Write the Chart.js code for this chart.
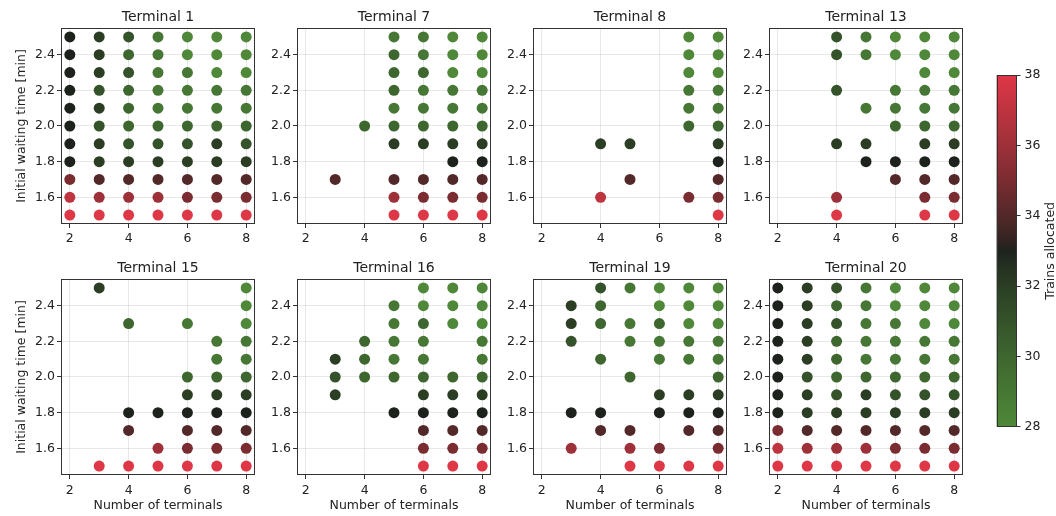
<!DOCTYPE html>
<html><head><meta charset="utf-8">
<script src="https://cdn.jsdelivr.net/npm/chart.js@4/dist/chart.umd.min.js"></script>
<style>
html,body{margin:0;padding:0;background:#fff;}
#wrap{position:relative;width:1056px;height:516px;overflow:hidden;background:#fff;}
canvas{position:absolute;}
</style></head><body><div id="wrap"></div>
<script>
// ---- data ----
const nTerminals = [2, 3, 4, 5, 6, 7, 8];
const waitTimes = [2.5, 2.4, 2.3, 2.2, 2.1, 2.0, 1.9, 1.8, 1.7, 1.6, 1.5];
const xTicks = [2, 4, 6, 8];
const yTicks = [1.6, 1.8, 2.0, 2.2, 2.4];
const cbTicks = [28, 30, 32, 34, 36, 38];
const cbMin = 28, cbMax = 38;
const panelTitles = ['Terminal 1', 'Terminal 7', 'Terminal 8', 'Terminal 13', 'Terminal 15', 'Terminal 16', 'Terminal 19', 'Terminal 20'];
const n = null;
// rows: waitTimes (2.5 -> 1.5), columns: nTerminals (2 -> 8); value = trains allocated
const terminal1 = [
  [33,32,31,29,28,28,28],
  [33,32,30,29,28,28,28],
  [33,32,31,29,29,28,28],
  [33,31,30,29,29,29,29],
  [33,32,30,29,29,29,29],
  [33,31,30,30,30,30,30],
  [33,32,31,31,31,32,31],
  [33,32,32,32,32,32,32],
  [35,34,34,34,34,34,34],
  [37,36,36,36,35,35,35],
  [38,38,38,38,38,38,38]];
const terminal7 = [
  [n,n,n,29,29,28,28],
  [n,n,n,30,29,28,28],
  [n,n,n,30,30,28,28],
  [n,n,n,30,29,29,29],
  [n,n,n,29,29,29,29],
  [n,n,30,30,30,30,30],
  [n,n,n,32,32,32,32],
  [n,n,n,n,n,33,33],
  [n,34,n,34,34,34,34],
  [n,n,n,36,35,35,35],
  [n,n,n,38,38,38,38]];
const terminal8 = [
  [n,n,n,n,n,28,28],
  [n,n,n,n,n,28,28],
  [n,n,n,n,n,28,28],
  [n,n,n,n,n,29,29],
  [n,n,n,n,n,29,29],
  [n,n,n,n,n,30,30],
  [n,n,32,32,n,n,32],
  [n,n,n,n,n,n,33],
  [n,n,n,34,n,n,34],
  [n,n,37,n,n,35,35],
  [n,n,n,n,n,n,38]];
const terminal13 = [
  [n,n,31,29,28,28,28],
  [n,n,31,29,28,28,28],
  [n,n,n,n,n,28,28],
  [n,n,31,n,29,29,29],
  [n,n,n,29,29,29,29],
  [n,n,n,n,30,30,30],
  [n,n,32,32,n,32,32],
  [n,n,n,33,33,33,33],
  [n,n,n,n,34,34,34],
  [n,n,36,n,n,35,35],
  [n,n,38,n,n,38,38]];
const terminal15 = [
  [n,32,n,n,n,n,28],
  [n,n,n,n,n,n,28],
  [n,n,30,n,29,n,28],
  [n,n,n,n,n,29,29],
  [n,n,n,n,n,29,29],
  [n,n,n,n,30,30,30],
  [n,n,n,n,32,32,32],
  [n,n,33,33,33,33,33],
  [n,n,34,n,34,34,34],
  [n,n,n,36,35,35,35],
  [n,38,38,38,38,38,38]];
const terminal16 = [
  [n,n,n,n,28,28,28],
  [n,n,n,29,28,28,28],
  [n,n,n,29,30,28,28],
  [n,n,30,29,29,n,29],
  [n,32,30,29,29,n,29],
  [n,31,30,30,30,30,30],
  [n,32,n,n,32,32,32],
  [n,n,n,33,33,33,33],
  [n,n,n,n,34,34,34],
  [n,n,n,n,35,35,35],
  [n,n,n,n,38,38,38]];
const terminal19 = [
  [n,n,31,29,28,28,28],
  [n,32,30,n,28,28,28],
  [n,32,30,29,30,28,28],
  [n,31,n,29,29,29,29],
  [n,n,30,n,29,29,29],
  [n,n,n,30,n,n,30],
  [n,n,n,n,32,32,32],
  [n,33,33,n,33,33,33],
  [n,n,34,34,n,34,34],
  [n,36,n,36,35,n,35],
  [n,n,n,38,38,38,38]];
const terminal20 = [
  [33,32,31,29,28,28,28],
  [33,32,30,29,28,28,28],
  [33,32,31,29,29,28,28],
  [33,32,30,29,29,29,29],
  [33,32,30,29,29,29,29],
  [33,31,30,30,30,30,30],
  [33,32,31,32,31,31,31],
  [33,32,32,32,32,32,32],
  [35,34,34,34,34,34,34],
  [37,36,36,36,35,35,35],
  [38,38,38,38,38,38,38]];
const panelGrids = [terminal1, terminal7, terminal8, terminal13, terminal15, terminal16, terminal19, terminal20];

// ---- styling ----
const FONT = "'DejaVu Sans', sans-serif";
const TXT = '#222';
const cGreen = [78, 136, 56], cDark = [29, 34, 29], cRed = [222, 55, 70];
function mix(a, b, t) { return a.map((v, i) => Math.round(v + (b[i] - v) * t)); }
function cmap(v) {
  const t = Math.max(0, Math.min(1, (v - cbMin) / (cbMax - cbMin)));
  let c;
  if (t < 0.5) c = mix(cDark, cGreen, Math.pow((0.5 - t) / 0.5, 0.8));
  else c = mix(cDark, cRed, Math.pow((t - 0.5) / 0.5, 0.8));
  return 'rgb(' + c.join(',') + ')';
}
const framePlugin = {
  id: 'frame',
  afterDraw(chart) {
    const { ctx, chartArea: a } = chart;
    ctx.save();
    ctx.strokeStyle = '#333';
    ctx.lineWidth = 1;
    const l = Math.round(a.left) + 0.5, t = Math.round(a.top) + 0.5;
    const r = Math.round(a.right) - 0.5, b = Math.round(a.bottom) - 0.5;
    ctx.strokeRect(l, t, r - l, b - t);
    ctx.restore();
  }
};

const wrap = document.getElementById('wrap');
const plotLefts = [61, 297, 533, 769];
const plotTops = [28, 279];
const PW = 194, PH = 196, ML = 50, MR = 50, TT = 28;

function makeCanvas(left, top, w, h) {
  const c = document.createElement('canvas');
  c.width = w; c.height = h;
  c.style.left = left + 'px'; c.style.top = top + 'px';
  c.style.width = w + 'px'; c.style.height = h + 'px';
  wrap.appendChild(c);
  return c;
}

panelGrids.forEach((grid, i) => {
  const col = i % 4, row = Math.floor(i / 4);
  const xH = row === 1 ? 40 : 30;
  const w = ML + PW + MR, h = TT + PH + xH;
  const cv = makeCanvas(plotLefts[col] - ML, plotTops[row] - TT, w, h);
  const pts = [];
  grid.forEach((r, ri) => r.forEach((v, ci) => {
    if (v !== null) pts.push({ x: nTerminals[ci], y: waitTimes[ri], v: v });
  }));
  new Chart(cv, {
    type: 'scatter',
    data: { datasets: [{
      data: pts,
      pointRadius: 5.5, pointHoverRadius: 5.5, pointBorderWidth: 0,
      backgroundColor: ctx => cmap(ctx.raw ? ctx.raw.v : 33)
    }] },
    options: {
      responsive: false, animation: false, devicePixelRatio: 1,
      events: [],
      layout: { padding: { left: 0, right: MR, top: 0, bottom: 0 } },
      plugins: {
        legend: { display: false }, tooltip: { enabled: false },
        title: { display: true, text: panelTitles[i], fullSize: false, color: TXT,
          font: { family: FONT, size: 14, weight: 'normal' }, padding: { top: 8.5, bottom: 2.7 } }
      },
      scales: {
        x: {
          type: 'linear', min: 1.7, max: 8.3, z: 1,
          afterBuildTicks: s => { s.ticks = xTicks.map(v => ({ value: v })); },
          afterFit: s => { s.height = xH; },
          grid: { color: 'rgba(0,0,0,0.09)', lineWidth: 1, tickColor: '#333', tickLength: 4 },
          border: { display: false },
          ticks: { color: TXT, font: { family: FONT, size: 12.5 }, padding: row === 1 ? 4 : 3, maxRotation: 0, callback: v => String(v) },
          title: { display: row === 1, text: 'Number of terminals', color: TXT,
            font: { family: FONT, size: 12.5 }, padding: { top: 0, bottom: 2 } }
        },
        y: {
          type: 'linear', min: 1.45, max: 2.55, z: 1,
          afterBuildTicks: s => { s.ticks = yTicks.map(v => ({ value: v })); },
          afterFit: s => { s.width = ML; },
          grid: { color: 'rgba(0,0,0,0.09)', lineWidth: 1, tickColor: '#333', tickLength: 4 },
          border: { display: false },
          ticks: { color: TXT, font: { family: FONT, size: 12.5 }, padding: 2, callback: v => Number(v).toFixed(1) },
          title: { display: col === 0, text: 'Initial waiting time [min]', color: TXT,
            font: { family: FONT, size: 12.5 }, padding: { top: 3.5, bottom: 0 } }
        }
      }
    },
    plugins: [framePlugin]
  });
});

// ---- colorbar ----
const cbCanvas = makeCanvas(990, 60, 66, 380);
const cbLabelPlugin = {
  id: 'cbLabel',
  afterDraw(chart) {
    const { ctx, chartArea: a } = chart;
    ctx.save();
    ctx.translate(61, (a.top + a.bottom) / 2);
    ctx.rotate(-Math.PI / 2);
    ctx.fillStyle = TXT;
    ctx.font = "12.5px " + FONT;
    ctx.textAlign = 'center';
    ctx.textBaseline = 'middle';
    ctx.fillText('Trains allocated', 0, 0);
    ctx.restore();
  }
};
new Chart(cbCanvas, {
  type: 'bar',
  data: { labels: [''], datasets: [{
    data: [[cbMin, cbMax]],
    barPercentage: 1, categoryPercentage: 1, borderWidth: 0,
    backgroundColor: ctx => {
      const a = ctx.chart.chartArea;
      if (!a) return 'rgba(0,0,0,0)';
      const g = ctx.chart.ctx.createLinearGradient(0, a.bottom, 0, a.top);
      for (let k = 0; k <= 40; k++) g.addColorStop(k / 40, cmap(cbMin + (cbMax - cbMin) * k / 40));
      return g;
    }
  }] },
  options: {
    responsive: false, animation: false, devicePixelRatio: 1, events: [],
    layout: { padding: { left: 6.5, right: 0, top: 15, bottom: 13.3 } },
    plugins: { legend: { display: false }, tooltip: { enabled: false } },
    scales: {
      x: { display: false },
      y: {
        position: 'right', min: cbMin, max: cbMax,
        afterBuildTicks: s => { s.ticks = cbTicks.map(v => ({ value: v })); },
        afterFit: s => { s.width = 39.5; },
        grid: { drawOnChartArea: false, tickColor: '#333', tickLength: 4 },
        border: { display: false },
        ticks: { color: TXT, font: { family: FONT, size: 12.5 }, padding: 4 }
      }
    }
  },
  plugins: [framePlugin, cbLabelPlugin]
});
</script></body></html>
